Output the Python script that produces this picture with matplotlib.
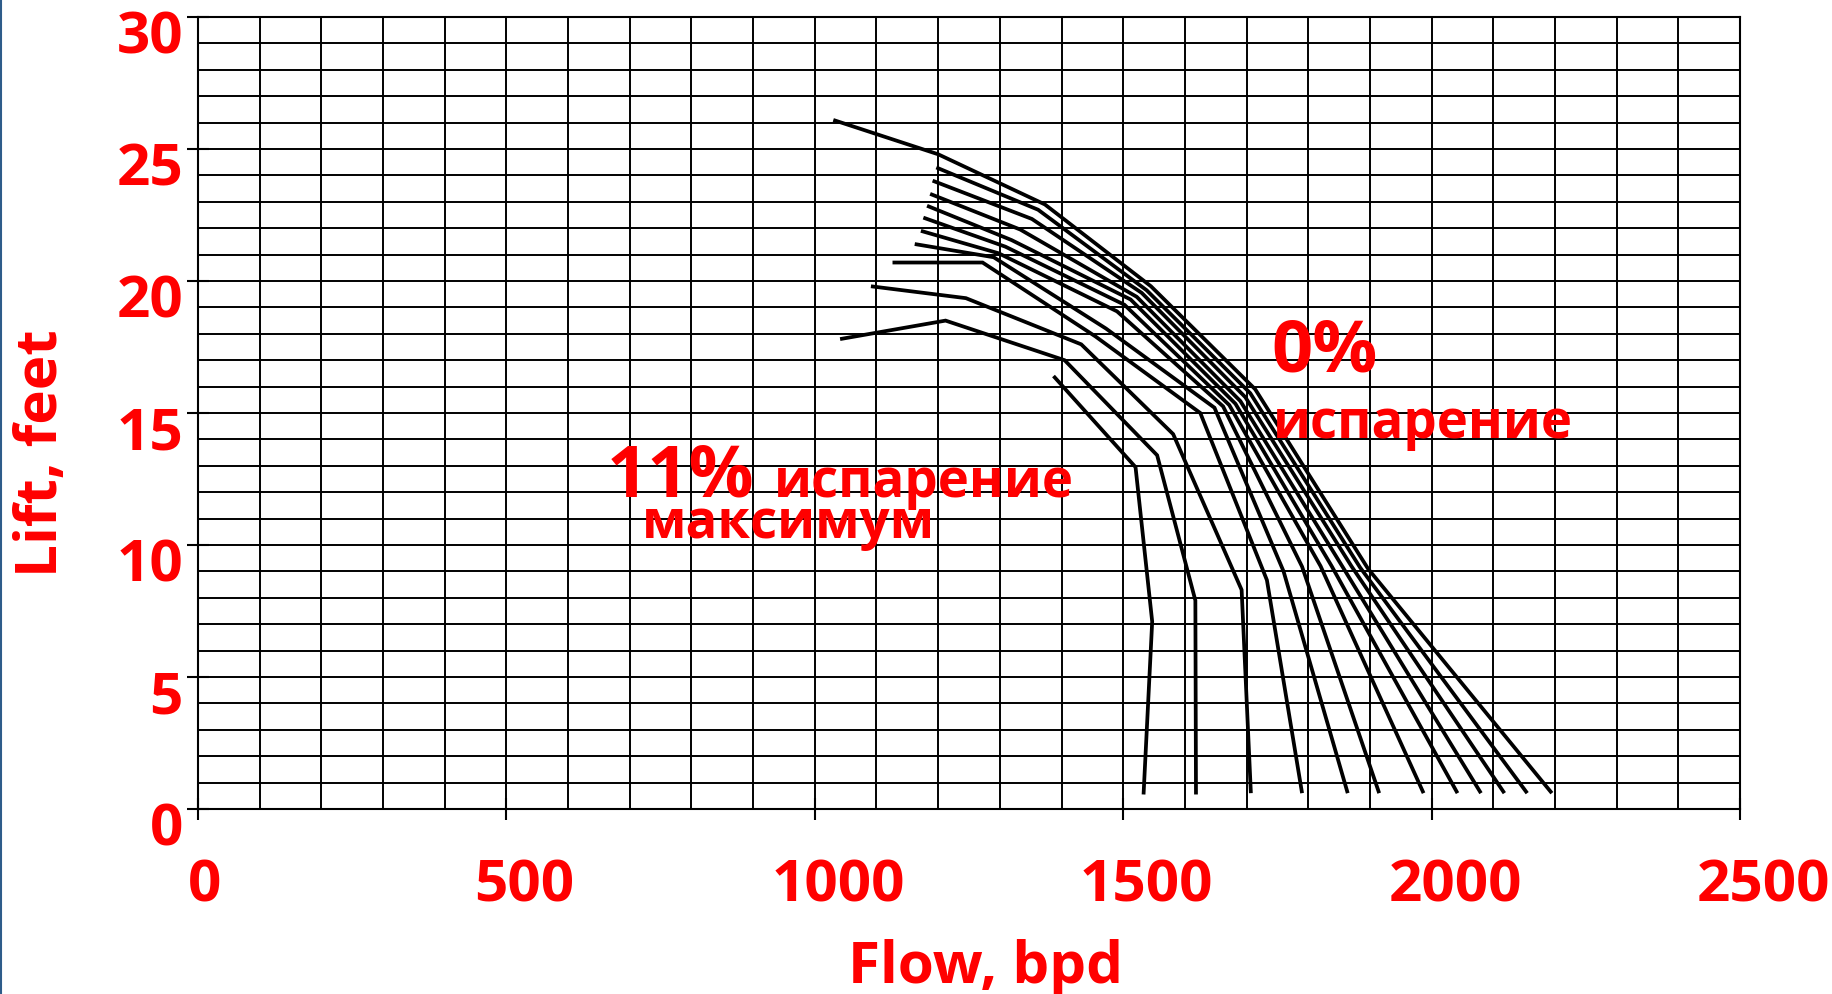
import numpy as np
import matplotlib
matplotlib.use("Agg")
import matplotlib.pyplot as plt
from matplotlib.transforms import ScaledTranslation
from matplotlib.lines import Line2D

plt.rcParams['font.family'] = ['Open Sans', 'DejaVu Sans']

# ---- data ----
c1_x = [1030, 1200, 1373, 1545, 1714, 1897, 2195]
c1_y = [26.1, 24.8, 22.9, 19.8, 15.9, 9.1, 0.6]
c2_x = [1197, 1362, 1538, 1706, 1884, 2155]
c2_y = [24.3, 22.7, 19.65, 15.75, 9.15, 0.6]
c3_x = [1191, 1352, 1530, 1698, 1870, 2118]
c3_y = [23.8, 22.35, 19.55, 15.6, 9.2, 0.6]
c4_x = [1187, 1333, 1522, 1690, 1855, 2080]
c4_y = [23.3, 21.95, 19.4, 15.45, 9.2, 0.6]
c5_x = [1182, 1319, 1512, 1682, 1838, 2042]
c5_y = [22.85, 21.55, 19.3, 15.35, 9.2, 0.6]
c6_x = [1176, 1309, 1502, 1672, 1820, 1987]
c6_y = [22.4, 21.3, 19.1, 15.3, 9.2, 0.6]
c7_x = [1172, 1298, 1490, 1662, 1790, 1915]
c7_y = [21.9, 21.05, 18.85, 15.25, 9.18, 0.6]
c8_x = [1162, 1290, 1472, 1648, 1760, 1864]
c8_y = [21.4, 20.9, 18.2, 15.2, 9.0, 0.6]
c9_x = [1126, 1272, 1455, 1625, 1733, 1790]
c9_y = [20.7, 20.7, 17.9, 15.0, 8.67, 0.6]
c10_x = [1091, 1245, 1432, 1581, 1692, 1707]
c10_y = [19.8, 19.35, 17.6, 14.2, 8.3, 0.6]
c11_x = [1041, 1212, 1405, 1555, 1617, 1618]
c11_y = [17.8, 18.5, 17.0, 13.4, 7.9, 0.55]
c12_x = [1387, 1520, 1547, 1533]
c12_y = [16.4, 12.95, 7.1, 0.55]

curves_x = [c1_x, c2_x, c3_x, c4_x, c5_x, c6_x, c7_x, c8_x, c9_x, c10_x, c11_x, c12_x]
curves_y = [c1_y, c2_y, c3_y, c4_y, c5_y, c6_y, c7_y, c8_y, c9_y, c10_y, c11_y, c12_y]

x_ticks = [0, 500, 1000, 1500, 2000, 2500]
x_labels = ["0", "500", "1000", "1500", "2000", "2500"]
y_ticks = [0, 5, 10, 15, 20, 25, 30]
y_labels = ["0", "5", "10", "15", "20", "25", "30"]

x_title = "Flow, bpd"
y_title = "Lift, feet"
note_0_big = "0%"
note_0_small = "испарение"
note_11_big = "11%"
note_11_small = "испарение"
note_11_line2 = "максимум"

RED = "#FF0000"

fig = plt.figure(figsize=(18.32, 9.94), dpi=100)
ax = fig.add_axes([198/1832, 1-809/994, (1740-198)/1832, (809-17)/994])
ax.set_xlim(0, 2500)
ax.set_ylim(0, 30)

# grid
ax.set_xticks(np.arange(0, 2501, 100), minor=True)
ax.set_yticks(np.arange(0, 31, 1), minor=True)
ax.set_xticks(x_ticks)
ax.set_yticks(y_ticks)
ax.grid(which='both', color='black', linewidth=1.4)
ax.set_axisbelow(True)
ax.tick_params(which='minor', length=0)
ax.tick_params(which='major', direction='inout', length=16, width=1.5, color='black',
               labelbottom=False, labelleft=False)
for s in ax.spines.values():
    s.set_color('black')
    s.set_linewidth(1.5)

for xs, ys in zip(curves_x, curves_y):
    ax.plot(xs, ys, color='black', linewidth=2.7, solid_capstyle='butt', solid_joinstyle='miter')

tick_font = dict(family=['Open Sans', 'DejaVu Sans'], fontweight='bold', fontsize=42, color=RED)

# x tick labels
for v, lab in zip(x_ticks, x_labels):
    dx = (5.5 * len(lab) + 1.5) / 100
    tr = ax.get_xaxis_transform() + ScaledTranslation(dx, -0.78, fig.dpi_scale_trans)
    ax.text(v, 0, lab, transform=tr, ha='center', va='center', **tick_font)

# y tick labels
for v, lab in zip(y_ticks, y_labels):
    tr = ax.get_yaxis_transform() + ScaledTranslation(-0.15, -0.22, fig.dpi_scale_trans)
    ax.text(0, v, lab, transform=tr, ha='right', va='center', **tick_font)

fig.text(985/1832, 1-968/994, x_title, ha='center', va='center', **tick_font)
fig.text(42/1832, 1-453/994, y_title, ha='center', va='center', rotation=90, **tick_font)

big = dict(family=['Open Sans', 'DejaVu Sans'], fontweight='bold', fontsize=52, color=RED)
small = dict(family=['Open Sans', 'DejaVu Sans'], fontweight='bold', fontsize=38, color=RED)
ax.text(1740, 16.56, note_0_big, ha='left', va='baseline', **big)
ax.text(1743, 14.04, note_0_small, ha='left', va='baseline', **small)
ax.text(662, 11.83, note_11_big, ha='left', va='baseline', **big)
ax.text(933, 11.83, note_11_small, ha='left', va='baseline', **small)
ax.text(719, 10.25, note_11_line2, ha='left', va='baseline', **small)

fig.add_artist(Line2D([0.0008, 0.0008], [0, 1], color='#2E5C8A', linewidth=1.5))

fig.savefig("out.png", dpi=100)
